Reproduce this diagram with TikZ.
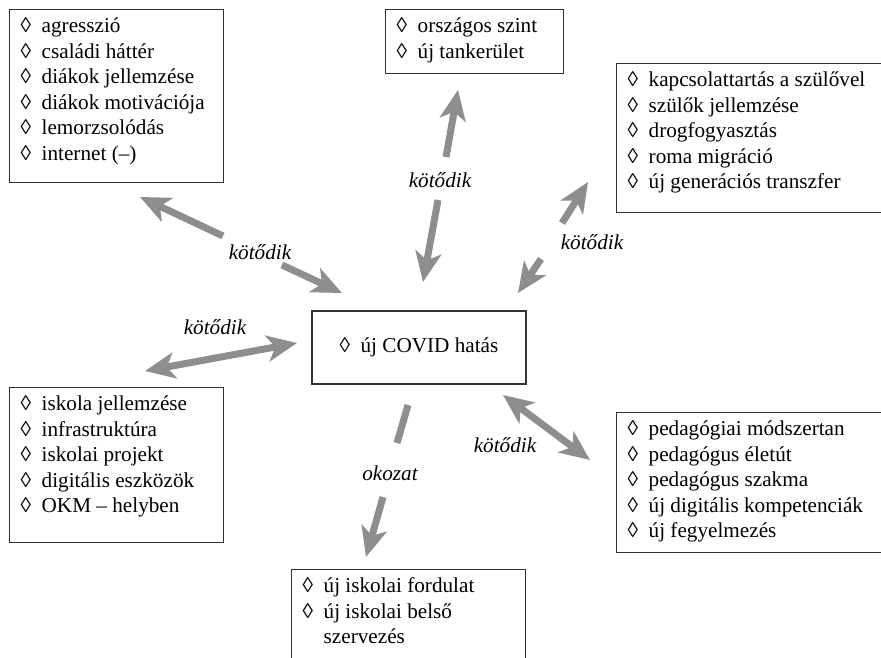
\documentclass[tikz,border=0pt]{standalone}
\usepackage{fontspec}
\setmainfont{Liberation Serif}
\usetikzlibrary{arrows.meta}
\definecolor{arrowgray}{RGB}{142,142,142}
\definecolor{framegray}{RGB}{50,50,50}
\newcommand{\diagfont}{\fontsize{10.6}{12.75}\selectfont}
\newcommand{\dm}{\strut\makebox[10.5pt][l]{◊}}
\newcommand{\boxtext}[3]{\parbox[c][#2][t]{#1}{\raggedright\leftskip=5.5pt\vspace*{2.6pt}#3}}

\begin{document}
\begin{tikzpicture}[x=0.5pt, y=-0.5pt, font=\diagfont,
    >={Stealth[length=15pt, width=13pt, inset=4pt]},
    listbox/.style={draw=framegray, line width=0.7pt, inner sep=0pt, anchor=north west},
    link/.style={draw=arrowgray, line width=3.5pt},
    lbl/.style={font=\diagfont\itshape, inner sep=1pt}]
    \useasboundingbox (0,0) rectangle (881,657);

    % boxes
    \node[listbox] (diak) at (9,9) {\boxtext{107pt}{86.5pt}{\dm agresszió\\ \dm családi háttér\\ \dm diákok jellemzése\\ \dm diákok motivációja\\ \dm lemorzsolódás\\ \dm internet (--)}};
    \node[listbox] (orszag) at (385,9) {\boxtext{89pt}{32pt}{\dm országos szint\\ \dm új tankerület}};
    \node[listbox] (szulo) at (616,63) {\boxtext{150pt}{74.5pt}{\dm kapcsolattartás a szülővel\\ \dm szülők jellemzése\\ \dm drogfogyasztás\\ \dm roma migráció\\ \dm új generációs transzfer}};
    \node[draw=framegray, line width=0.7pt, minimum width=107pt, minimum height=36.5pt, inner sep=0pt] (covid) at (419,347.5) {\dm új COVID hatás};
    \node[listbox] (iskola) at (9,387) {\boxtext{107pt}{77.5pt}{\dm iskola jellemzése\\ \dm infrastruktúra\\ \dm iskolai projekt\\ \dm digitális eszközök\\ \dm OKM -- helyben}};
    \node[listbox] (pedag) at (616,412) {\boxtext{150pt}{70pt}{\dm pedagógiai módszertan\\ \dm pedagógus életút\\ \dm pedagógus szakma\\ \dm új digitális kompetenciák\\ \dm új fegyelmezés}};
    \node[listbox] (fordulat) at (291,569) {\boxtext{117pt}{60pt}{\dm új iskolai fordulat\\ \dm új iskolai belső\\ \strut\hspace*{10.5pt}szervezés}};

    % labels
    \node[lbl] (k1) at (260,252) {kötődik};
    \node[lbl] (k2) at (440,180) {kötődik};
    \node[lbl] (k3) at (592,242) {kötődik};
    \node[lbl] (k4) at (215,327) {kötődik};
    \node[lbl] (k5) at (505,445) {kötődik};
    \node[lbl] (ok) at (390,473) {okozat};

    % arrow ends
    \coordinate (a1s) at (140,197);
    \coordinate (a1p) at (223,236);
    \coordinate (a1q) at (282,265);
    \coordinate (a1e) at (342,293);
    \coordinate (a2s) at (458,90);
    \coordinate (a2p) at (446,157);
    \coordinate (a2q) at (438,200);
    \coordinate (a2e) at (423,282);
    \coordinate (a3s) at (588,182);
    \coordinate (a3p) at (562,223);
    \coordinate (a3q) at (541,259);
    \coordinate (a3e) at (518,293);
    \coordinate (a4s) at (145,371);
    \coordinate (a4e) at (297,343);
    \coordinate (a5s) at (503,395);
    \coordinate (a5e) at (590,460);
    \coordinate (a6s) at (408,405);
    \coordinate (a6p) at (397,443);
    \coordinate (a6q) at (383,497);
    \coordinate (a6e) at (366,557);

    % arrows
    \draw[link, ->] (a1p) -- (a1s);
    \draw[link, ->] (a1q) -- (a1e);
    \draw[link, ->] (a2p) -- (a2s);
    \draw[link, ->] (a2q) -- (a2e);
    \draw[link, ->] (a3p) -- (a3s);
    \draw[link, ->] (a3q) -- (a3e);
    \draw[link, <->] (a4s) -- (a4e);
    \draw[link, <->] (a5s) -- (a5e);
    \draw[link] (a6s) -- (a6p);
    \draw[link, ->] (a6q) -- (a6e);
\end{tikzpicture}
\end{document}
